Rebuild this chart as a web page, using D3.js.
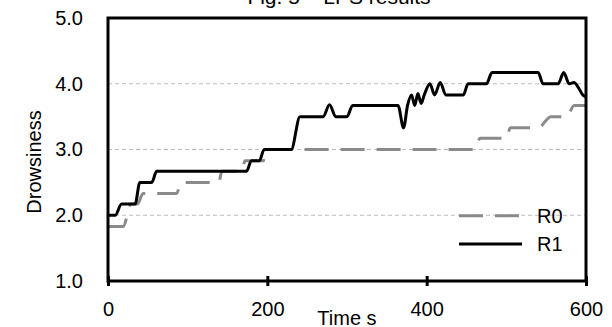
<!DOCTYPE html>
<html>
<head>
<meta charset="utf-8">
<script src="https://cdn.jsdelivr.net/npm/d3@7"></script>
<style>
  html, body { margin: 0; padding: 0; background: #fff; }
  svg { display: block; font-family: "Liberation Sans", Arial, sans-serif; }
</style>
</head>
<body>
<div id="chart"></div>
<script>
// R0 (grey dashed) – time in s, drowsiness level
const r0Time  = [0, 19, 29, 37, 44, 86, 92, 139, 143, 168, 172, 195, 199, 460, 467, 500, 505, 540, 556, 576, 585, 600];
const r0Value = [1.83, 1.83, 2.17, 2.17, 2.33, 2.33, 2.5, 2.5, 2.67, 2.67, 2.83, 2.83, 3.0, 3.0, 3.17, 3.17, 3.33, 3.33, 3.5, 3.5, 3.67, 3.67];

// R1 (black solid)
const r1Time  = [0, 9, 17, 34, 40, 55, 61, 174, 180, 190, 196, 230, 241, 270, 278, 286, 300, 307, 364, 371, 376, 381, 385, 389, 393, 397, 404, 410, 417, 424, 446, 452, 475, 482, 540, 546, 565, 572, 579, 585, 590, 596, 600];
const r1Value = [2.0, 2.0, 2.17, 2.17, 2.5, 2.5, 2.67, 2.67, 2.83, 2.83, 3.0, 3.0, 3.5, 3.5, 3.68, 3.5, 3.5, 3.67, 3.67, 3.33, 3.67, 3.83, 3.67, 3.85, 3.7, 3.83, 4.0, 3.83, 4.02, 3.83, 3.83, 4.0, 4.0, 4.17, 4.17, 4.0, 4.0, 4.17, 4.0, 4.02, 3.95, 3.83, 3.8];

const xTicks = [0, 200, 400, 600];
const yTicks = [1, 2, 3, 4, 5];
const gridValues = [2, 3, 4];
const seriesNames = ['R0', 'R1'];

const width = 612, height = 327;
const margin = { top: 18, right: 26, bottom: 46, left: 108 };
const innerW = width - margin.left - margin.right;
const innerH = height - margin.top - margin.bottom;

const svg = d3.select('#chart').append('svg')
  .attr('width', width)
  .attr('height', height);

const g = svg.append('g')
  .attr('transform', `translate(${margin.left},${margin.top})`);

const x = d3.scaleLinear().domain([0, 600]).range([0, innerW]);
const y = d3.scaleLinear().domain([1, 5]).range([innerH, 0]);

// gridlines
g.selectAll('.grid')
  .data(gridValues)
  .enter()
  .append('line')
  .attr('x1', 0)
  .attr('x2', innerW)
  .attr('y1', d => y(d))
  .attr('y2', d => y(d))
  .attr('stroke', '#bdbdbd')
  .attr('stroke-width', 1)
  .attr('stroke-dasharray', '4,3');

const line = d3.line()
  .x(d => x(d[0]))
  .y(d => y(d[1]))
  .curve(d3.curveMonotoneX);

const r0 = r0Time.map((t, i) => [t, r0Value[i]]);
const r1 = r1Time.map((t, i) => [t, r1Value[i]]);

g.append('path')
  .attr('d', line(r0))
  .attr('fill', 'none')
  .attr('stroke', '#8a8a8a')
  .attr('stroke-width', 3)
  .attr('stroke-dasharray', '24,12');

g.append('path')
  .attr('d', line(r1))
  .attr('fill', 'none')
  .attr('stroke', '#000')
  .attr('stroke-width', 3)
  .attr('stroke-linejoin', 'round');

// frame
g.append('rect')
  .attr('x', 0)
  .attr('y', 0)
  .attr('width', innerW)
  .attr('height', innerH)
  .attr('fill', 'none')
  .attr('stroke', '#000')
  .attr('stroke-width', 3);

// x axis
g.append('g')
  .attr('transform', `translate(0,${innerH})`)
  .call(d3.axisBottom(x).tickValues(xTicks).tickSize(5).tickPadding(15.5).tickFormat(d3.format('d')))
  .call(a => a.select('.domain').remove())
  .call(a => a.selectAll('.tick line').attr('y1', -5).attr('y2', 5).attr('stroke', '#000').attr('stroke-width', 3))
  .call(a => a.selectAll('.tick text').attr('font-size', 20).attr('fill', '#000').attr('font-family', null));

// y axis
g.append('g')
  .call(d3.axisLeft(y).tickValues(yTicks).tickSize(0).tickPadding(25).tickFormat(d3.format('.1f')))
  .call(a => a.select('.domain').remove())
  .call(a => a.selectAll('.tick text').attr('font-size', 20).attr('fill', '#000').attr('font-family', null));

// axis titles
svg.append('text')
  .attr('x', margin.left + innerW / 2)
  .attr('y', 325)
  .attr('text-anchor', 'middle')
  .attr('font-size', 20)
  .text('Time s');

svg.append('text')
  .attr('transform', 'translate(41,162) rotate(-90)')
  .attr('text-anchor', 'middle')
  .attr('font-size', 20)
  .text('Drowsiness');

// title (cut off at top)
svg.append('text')
  .attr('x', 339)
  .attr('y', 4)
  .attr('text-anchor', 'middle')
  .attr('font-size', 21)
  .text('Fig. 5 – LPS results');

// legend
const legend = svg.append('g');
const legendY = [215.7, 244];
seriesNames.forEach((name, i) => {
  legend.append('line')
    .attr('x1', 459)
    .attr('x2', 522)
    .attr('y1', legendY[i])
    .attr('y2', legendY[i])
    .attr('stroke', i === 0 ? '#8a8a8a' : '#000')
    .attr('stroke-width', 3)
    .attr('stroke-dasharray', i === 0 ? '24,12' : null);
  legend.append('text')
    .attr('x', 537)
    .attr('y', legendY[i])
    .attr('dy', '0.36em')
    .attr('font-size', 20)
    .text(name);
});
</script>
</body>
</html>
